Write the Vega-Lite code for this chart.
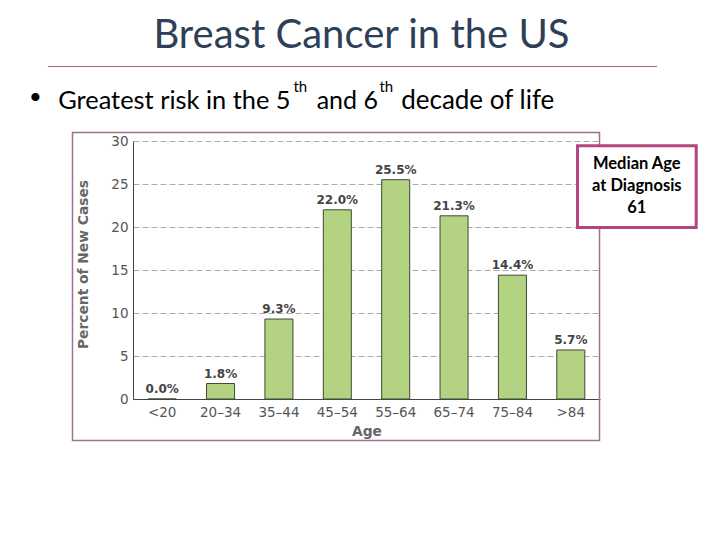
{
  "$schema": "https://vega.github.io/schema/vega-lite/v6.json",
  "width": 467,
  "height": 258,
  "autosize": {"type": "none"},
  "padding": {"left": 133, "top": 141, "right": 120, "bottom": 141},
  "background": "white",
  "config": {
    "view": {"stroke": null},
    "axis": {
      "labelFont": "DejaVu Sans",
      "labelFontSize": 13.5,
      "labelColor": "#555555",
      "titleFont": "DejaVu Sans",
      "titleFontSize": 13.8,
      "titleFontWeight": "bold",
      "titleColor": "#666666",
      "ticks": false,
      "domainColor": "#444444"
    },
    "axisX": {"labelAngle": 0, "labelPadding": 6, "titlePadding": 6, "grid": false},
    "axisY": {"labelPadding": 5, "titlePadding": 20, "grid": true, "gridColor": "#aaaaaa", "gridDash": [6, 3]}
  },
  "title": {
    "text": "Breast Cancer in the US",
    "font": "Lato",
    "fontSize": 40,
    "fontWeight": "normal",
    "color": "#2e3f57",
    "anchor": "middle",
    "frame": "group",
    "dx": -5,
    "offset": 10
  },
  "data": {
    "values": [
      {"age": "<20", "pct": 0.0},
      {"age": "20–34", "pct": 1.8},
      {"age": "35–44", "pct": 9.3},
      {"age": "45–54", "pct": 22.0},
      {"age": "55–64", "pct": 25.5},
      {"age": "65–74", "pct": 21.3},
      {"age": "75–84", "pct": 14.4},
      {"age": ">84", "pct": 5.7}
    ]
  },
  "layer": [
    {
      "mark": {"type": "bar", "fill": "#b3d383", "stroke": "#3d4a35", "strokeWidth": 1},
      "encoding": {
        "x": {
          "field": "age",
          "type": "nominal",
          "sort": null,
          "scale": {"domain": ["<20", "20–34", "35–44", "45–54", "55–64", "65–74", "75–84", ">84"], "paddingInner": 0.52, "paddingOuter": 0.26},
          "axis": {"title": "Age", "bandPosition": 0.5, "labelAlign": "center", "labelAngle": 0}
        },
        "y": {
          "field": "pct",
          "type": "quantitative",
          "scale": {"domain": [0, 30], "nice": false},
          "axis": {"values": [0, 5, 10, 15, 20, 25, 30], "title": "Percent of New Cases", "titleY": 123, "grid": true}
        }
      }
    },
    {
      "data": {"values": [{}]},
      "mark": {"type": "rect", "fillOpacity": 0, "stroke": "#9e7093", "strokeWidth": 1.5, "xOffset": -89.7, "x2Offset": 28.7},
      "encoding": {
        "x": {"datum": "<20", "type": "nominal"},
        "x2": {"datum": ">84"},
        "y": {"datum": 31.0, "type": "quantitative"},
        "y2": {"datum": -4.83}
      }
    },
    {
      "transform": [{"calculate": "format(datum.pct, '.1f') + '%'", "as": "label"}],
      "mark": {"type": "text", "font": "DejaVu Sans", "fontSize": 12, "fontWeight": "bold", "color": "#444444", "baseline": "alphabetic", "dy": -6},
      "encoding": {
        "x": {"field": "age", "type": "nominal"},
        "y": {"field": "pct", "type": "quantitative"},
        "text": {"field": "label"}
      }
    },
    {
      "data": {"values": [{}]},
      "mark": {"type": "rule", "color": "#b5588a", "strokeWidth": 1, "xOffset": -114.2, "x2Offset": 86.2},
      "encoding": {
        "x": {"datum": "<20", "type": "nominal"},
        "x2": {"datum": ">84"},
        "y": {"datum": 38.66, "type": "quantitative"}
      }
    },
    {
      "data": {"values": [{}]},
      "mark": {"type": "text", "text": "•", "font": "Lato", "fontSize": 22, "color": "#000000", "align": "center", "baseline": "alphabetic", "dx": -126.7},
      "encoding": {
        "x": {"datum": "<20", "type": "nominal"},
        "y": {"datum": 34.3, "type": "quantitative"}
      }
    },
    {
      "data": {"values": [{}]},
      "mark": {"type": "text", "text": "Greatest risk in the 5", "font": "Lato", "fontSize": 25.4, "color": "#000000", "align": "left", "baseline": "alphabetic", "dx": -104},
      "encoding": {
        "x": {"datum": "<20", "type": "nominal"},
        "y": {"datum": 33.72, "type": "quantitative"}
      }
    },
    {
      "data": {"values": [{}]},
      "mark": {"type": "text", "text": "th", "font": "Lato", "fontSize": 15, "color": "#000000", "align": "left", "baseline": "alphabetic", "dx": 131.3},
      "encoding": {
        "x": {"datum": "<20", "type": "nominal"},
        "y": {"datum": 35.7, "type": "quantitative"}
      }
    },
    {
      "data": {"values": [{}]},
      "mark": {"type": "text", "text": "and 6", "font": "Lato", "fontSize": 25, "color": "#000000", "align": "left", "baseline": "alphabetic", "dx": 154.5},
      "encoding": {
        "x": {"datum": "<20", "type": "nominal"},
        "y": {"datum": 33.72, "type": "quantitative"}
      }
    },
    {
      "data": {"values": [{}]},
      "mark": {"type": "text", "text": "th", "font": "Lato", "fontSize": 15, "color": "#000000", "align": "left", "baseline": "alphabetic", "dx": 217.3},
      "encoding": {
        "x": {"datum": "<20", "type": "nominal"},
        "y": {"datum": 35.7, "type": "quantitative"}
      }
    },
    {
      "data": {"values": [{}]},
      "mark": {"type": "text", "text": "decade of life", "font": "Lato", "fontSize": 26, "color": "#000000", "align": "left", "baseline": "alphabetic", "dx": 239},
      "encoding": {
        "x": {"datum": "<20", "type": "nominal"},
        "y": {"datum": 33.72, "type": "quantitative"}
      }
    },
    {
      "data": {"values": [{}]},
      "mark": {"type": "rect", "fill": "white", "stroke": "#b5457f", "strokeWidth": 3, "xOffset": 6.7, "x2Offset": 125.4},
      "encoding": {
        "x": {"datum": ">84", "type": "nominal"},
        "x2": {"datum": ">84"},
        "y": {"datum": 29.44, "type": "quantitative"},
        "y2": {"datum": 19.94}
      }
    },
    {
      "data": {"values": [{}]},
      "mark": {"type": "text", "text": ["Median Age", "at Diagnosis", "61"], "font": "Lato", "fontSize": 16.5, "fontWeight": "bold", "color": "#000000", "align": "center", "baseline": "middle", "lineHeight": 22, "dx": 66},
      "encoding": {
        "x": {"datum": ">84", "type": "nominal"},
        "y": {"datum": 27.33, "type": "quantitative"}
      }
    }
  ]
}
